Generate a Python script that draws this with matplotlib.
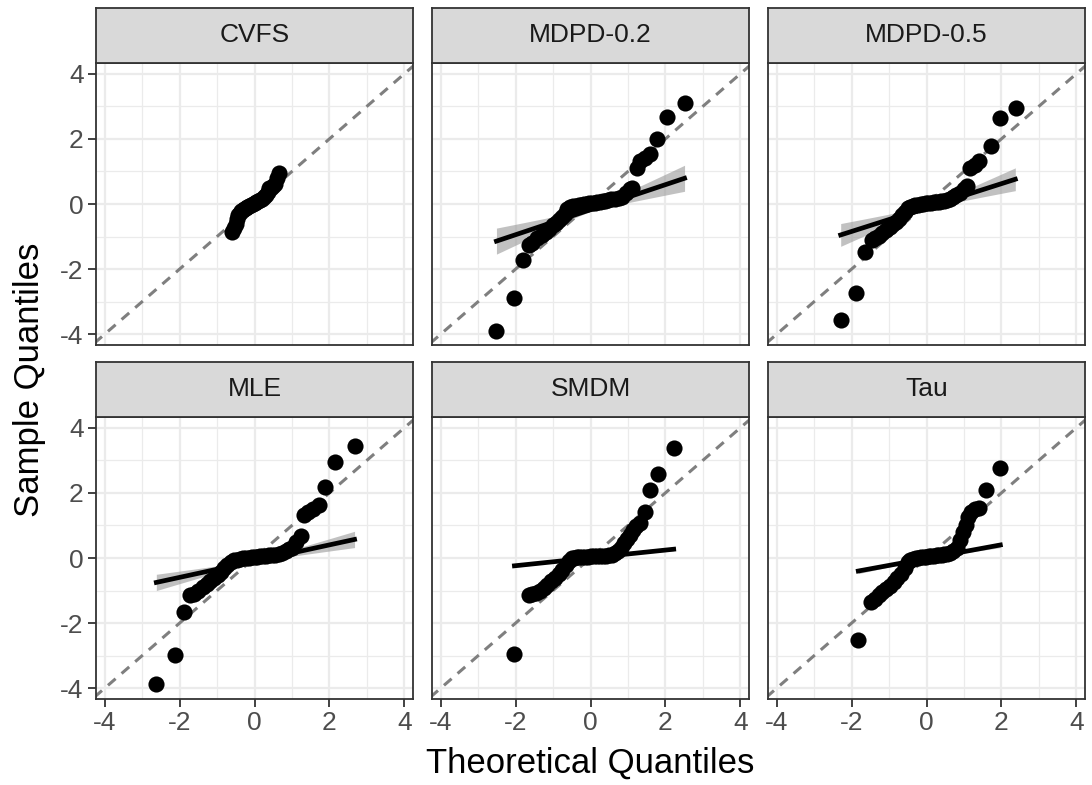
import numpy as np
import matplotlib
matplotlib.use("Agg")
import matplotlib.pyplot as plt

plt.rcParams["font.family"] = ["Liberation Sans", "DejaVu Sans"]
plt.rcParams["axes.unicode_minus"] = False

panels = ["CVFS", "MDPD-0.2", "MDPD-0.5", "MLE", "SMDM", "Tau"]

# theoretical (x) and sample (y) quantiles
cvfs_x = [-0.59, -0.55, -0.50, -0.47, -0.44, -0.40, -0.36, -0.32, -0.28, -0.24, -0.20, -0.15, -0.10, -0.05,
          0.00, 0.05, 0.10, 0.15, 0.20, 0.25, 0.30, 0.35, 0.40, 0.45, 0.50, 0.55, 0.60, 0.65]
cvfs_y = [-0.85, -0.75, -0.62, -0.45, -0.35, -0.28, -0.22, -0.18, -0.14, -0.11, -0.08, -0.05, -0.02, 0.00,
          0.02, 0.05, 0.08, 0.11, 0.15, 0.20, 0.28, 0.38, 0.48, 0.50, 0.55, 0.62, 0.80, 0.96]

mdpd2_x = [-2.51, -2.04, -1.80, -1.64, -1.55, -1.42, -1.30, -1.20, -1.10, -1.00, -0.92, -0.84, -0.76, -0.68,
           -0.62, -0.55, -0.48, -0.40, -0.32, -0.25, -0.18, -0.10, -0.03, 0.04, 0.11, 0.18, 0.25, 0.33, 0.40,
           0.48, 0.56, 0.65, 0.75, 0.85, 0.95, 1.05, 1.11, 1.24, 1.33, 1.45, 1.60, 1.78, 2.03, 2.51]
mdpd2_y = [-3.89, -2.88, -1.73, -1.27, -1.20, -1.04, -0.95, -0.85, -0.78, -0.65, -0.58, -0.50, -0.40, -0.30,
           -0.15, -0.10, -0.07, -0.05, -0.03, -0.02, 0.00, 0.01, 0.02, 0.03, 0.04, 0.05, 0.06, 0.08, 0.10,
           0.12, 0.14, 0.16, 0.18, 0.22, 0.35, 0.45, 0.50, 1.12, 1.32, 1.40, 1.53, 1.99, 2.66, 3.09]

mdpd5_x = [-2.29, -1.87, -1.63, -1.45, -1.38, -1.28, -1.18, -1.08, -0.98, -0.90, -0.82, -0.74, -0.66, -0.58,
           -0.50, -0.44, -0.37, -0.30, -0.23, -0.16, -0.09, -0.02, 0.05, 0.12, 0.19, 0.26, 0.33, 0.40, 0.47,
           0.55, 0.63, 0.72, 0.80, 0.90, 1.00, 1.08, 1.17, 1.30, 1.39, 1.71, 1.96, 2.39]
mdpd5_y = [-3.55, -2.73, -1.48, -1.10, -1.05, -0.98, -0.90, -0.80, -0.72, -0.62, -0.55, -0.45, -0.35, -0.25,
           -0.12, -0.08, -0.05, -0.03, -0.02, 0.00, 0.01, 0.02, 0.03, 0.04, 0.05, 0.06, 0.07, 0.08, 0.10,
           0.12, 0.15, 0.20, 0.28, 0.35, 0.45, 0.55, 1.12, 1.20, 1.32, 1.78, 2.64, 2.96]

mle_x = [-2.64, -2.13, -1.88, -1.71, -1.62, -1.50, -1.38, -1.28, -1.18, -1.08, -0.98, -0.90, -0.82, -0.74,
         -0.64, -0.56, -0.48, -0.40, -0.32, -0.24, -0.16, -0.08, 0.00, 0.08, 0.16, 0.24, 0.32, 0.40, 0.48,
         0.56, 0.65, 0.74, 0.83, 0.92, 1.00, 1.10, 1.23, 1.32, 1.42, 1.55, 1.71, 1.89, 2.16, 2.67]
mle_y = [-3.88, -2.99, -1.65, -1.14, -1.12, -1.00, -0.90, -0.80, -0.72, -0.62, -0.52, -0.42, -0.32, -0.22,
         -0.11, -0.07, -0.05, -0.03, -0.01, 0.00, 0.01, 0.02, 0.03, 0.04, 0.05, 0.06, 0.07, 0.08, 0.09,
         0.10, 0.12, 0.15, 0.22, 0.28, 0.31, 0.50, 0.67, 1.33, 1.40, 1.52, 1.64, 2.17, 2.94, 3.44]

smdm_x = [-2.04, -1.64, -1.55, -1.45, -1.35, -1.25, -1.15, -1.05, -0.95, -0.85, -0.75, -0.66, -0.58, -0.50,
          -0.44, -0.37, -0.30, -0.22, -0.14, -0.06, 0.02, 0.10, 0.18, 0.26, 0.34, 0.42, 0.50, 0.58, 0.66,
          0.74, 0.82, 0.90, 0.98, 1.06, 1.14, 1.22, 1.31, 1.45, 1.58, 1.80, 2.22]
smdm_y = [-2.96, -1.14, -1.12, -1.08, -1.00, -0.92, -0.82, -0.72, -0.62, -0.50, -0.38, -0.22, -0.08, 0.00,
          0.01, 0.02, 0.03, 0.03, 0.04, 0.04, 0.05, 0.05, 0.05, 0.06, 0.06, 0.07, 0.08, 0.10, 0.14,
          0.22, 0.32, 0.45, 0.58, 0.72, 0.85, 0.98, 1.08, 1.41, 2.10, 2.58, 3.37]

tau_x = [-1.83, -1.47, -1.38, -1.28, -1.18, -1.08, -0.98, -0.88, -0.78, -0.68, -0.58, -0.50, -0.43, -0.36,
         -0.29, -0.22, -0.15, -0.08, -0.01, 0.06, 0.13, 0.20, 0.27, 0.34, 0.41, 0.48, 0.56, 0.64, 0.72,
         0.82, 0.90, 0.98, 1.05, 1.12, 1.20, 1.30, 1.39, 1.59, 1.97]
tau_y = [-2.53, -1.36, -1.25, -1.15, -1.05, -0.95, -0.85, -0.75, -0.62, -0.48, -0.30, -0.12, -0.05, -0.02,
         0.00, 0.01, 0.02, 0.03, 0.04, 0.05, 0.06, 0.07, 0.08, 0.09, 0.10, 0.11, 0.13, 0.16, 0.20,
         0.30, 0.55, 0.80, 1.00, 1.25, 1.40, 1.50, 1.54, 2.08, 2.76]

xs = [cvfs_x, mdpd2_x, mdpd5_x, mle_x, smdm_x, tau_x]
ys = [cvfs_y, mdpd2_y, mdpd5_y, mle_y, smdm_y, tau_y]

# fitted line: start/end x, start/end y, CI half width at the ends and in the middle
fit_x0 = [None, -2.51, -2.29, -2.62, -2.03, -1.82]
fit_x1 = [None, 2.51, 2.37, 2.67, 2.22, 1.97]
fit_y0 = [None, -1.14, -0.95, -0.75, -0.24, -0.40]
fit_y1 = [None, 0.79, 0.76, 0.57, 0.27, 0.40]
ci_end = [None, 0.40, 0.35, 0.25, 0.05, 0.08]
ci_mid = [None, 0.06, 0.06, 0.04, 0.01, 0.02]

ticks = [-4, -2, 0, 2, 4]
minor = [-3, -1, 1, 3]

W, H = 1092, 785
fig = plt.figure(figsize=(W / 100, H / 100), dpi=100)

col_left = [96, 432, 768]
pw = 317
row_strip_top = [8, 362]
strip_h = 55
ph = 282

border = "#333333"
for i, name in enumerate(panels):
    r, c = divmod(i, 3)
    x0 = col_left[c]
    st = row_strip_top[r]
    ptop = st + strip_h
    ax = fig.add_axes([x0 / W, 1 - (ptop + ph) / H, pw / W, ph / H])
    sax = fig.add_axes([x0 / W, 1 - ptop / H, pw / W, strip_h / H])
    sax.set_facecolor("#D9D9D9")
    sax.set_xticks([])
    sax.set_yticks([])
    for sp in sax.spines.values():
        sp.set_color(border)
        sp.set_linewidth(1.3)
    sax.text(0.5, 0.5, name, ha="center", va="center", fontsize=19, color="#1A1A1A",
             transform=sax.transAxes)

    ax.set_xlim(-4.23, 4.23)
    ax.set_ylim(-4.33, 4.33)
    ax.set_xticks(ticks)
    ax.set_yticks(ticks)
    ax.set_xticks(minor, minor=True)
    ax.set_yticks(minor, minor=True)
    ax.grid(True, which="major", color="#EBEBEB", lw=1.6, zorder=0)
    ax.grid(True, which="minor", color="#EBEBEB", lw=0.9, zorder=0)
    ax.set_axisbelow(True)
    ax.tick_params(which="minor", length=0)
    ax.tick_params(which="major", length=6, width=1.3, color=border, labelsize=19,
                   labelcolor="#4D4D4D", pad=3)
    for sp in ax.spines.values():
        sp.set_color(border)
        sp.set_linewidth(1.3)
    if c != 0:
        ax.tick_params(axis="y", labelleft=False, length=0)
    if r == 0:
        ax.tick_params(axis="x", labelbottom=False, length=0)

    ax.plot([-5, 5], [-5, 5], color="#7F7F7F", lw=2.2, ls=(0, (3.3, 2.6)), zorder=2)

    if fit_x0[i] is not None:
        fx = np.linspace(fit_x0[i], fit_x1[i], 80)
        xm = (fit_x0[i] + fit_x1[i]) / 2
        half = (fit_x1[i] - fit_x0[i]) / 2
        fy = fit_y0[i] + (fit_y1[i] - fit_y0[i]) * (fx - fit_x0[i]) / (fit_x1[i] - fit_x0[i])
        k = np.sqrt(ci_end[i] ** 2 - ci_mid[i] ** 2) / half
        se = np.sqrt(ci_mid[i] ** 2 + (k * (fx - xm)) ** 2)
        ax.fill_between(fx, fy - se, fy + se, color="#999999", alpha=0.6, lw=0, zorder=3)

    ax.scatter(xs[i], ys[i], s=135, color="black", lw=0, zorder=4)

    if fit_x0[i] is not None:
        ax.plot(fx, fy, color="black", lw=3.4, zorder=5)

fig.text(590 / W, 1 - 763 / H, "Theoretical Quantiles", ha="center", va="center", fontsize=25)
fig.text(30 / W, 1 - 380 / H, "Sample Quantiles", ha="center", va="center", fontsize=25,
         rotation=90)

fig.savefig("out.png", dpi=100)
